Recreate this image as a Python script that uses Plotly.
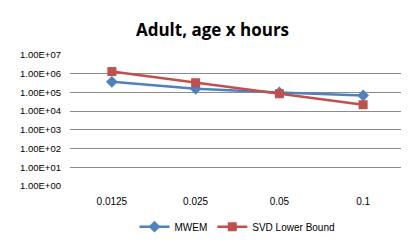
import plotly.graph_objects as go

categories = ["0.0125", "0.025", "0.05", "0.1"]
mwem = [3.7e5, 1.55e5, 1.0e5, 6.9e4]
svd_lower = [1.3e6, 3.3e5, 8.5e4, 2.2e4]
tick_vals = [1, 10, 100, 1e3, 1e4, 1e5, 1e6, 1e7]
tick_text = ["1.00E+00", "1.00E+01", "1.00E+02", "1.00E+03", "1.00E+04", "1.00E+05", "1.00E+06", "1.00E+07"]

fig = go.Figure()
fig.add_trace(go.Scatter(x=categories, y=mwem, name="MWEM", mode="lines+markers",
                         line=dict(color="#4F81BD", width=2.5),
                         marker=dict(symbol="diamond", size=9, color="#4F81BD")))
fig.add_trace(go.Scatter(x=categories, y=svd_lower, name="SVD Lower Bound", mode="lines+markers",
                         line=dict(color="#C0504D", width=2.5),
                         marker=dict(symbol="square", size=9, color="#C0504D")))

fig.update_layout(
    width=409, height=245,
    margin=dict(l=60, r=12, t=47, b=56),
    paper_bgcolor="white", plot_bgcolor="white",
    font=dict(family="Liberation Sans, Arial, sans-serif", size=9.5, color="#000"),
    title=dict(text="<b>Adult, age x hours</b>", x=0.5, xanchor="center", y=0.91, yanchor="middle",
               font=dict(family="Open Sans, sans-serif", size=17, color="#000")),
    showlegend=True,
    legend=dict(orientation="h", x=0.5, xanchor="center", y=-0.2, yanchor="top",
                font=dict(size=10), itemwidth=30),
    xaxis=dict(type="category", range=[-0.5, 3.5], showgrid=False, showline=False, ticks="",
               tickfont=dict(size=10), ticklabelstandoff=8),
    yaxis=dict(type="log", range=[0, 7], tickvals=tick_vals, ticktext=tick_text,
               showgrid=True, gridcolor="#8c8c8c", gridwidth=1, zeroline=False,
               showline=False, ticks="", tickfont=dict(size=9.5), ticklabelstandoff=8),
)
fig.write_html("out.html")
